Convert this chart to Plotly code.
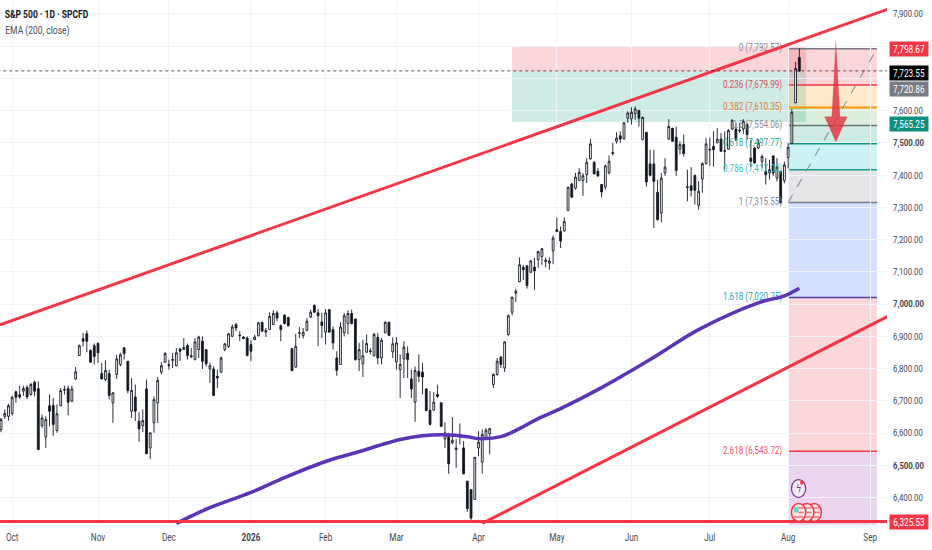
import plotly.graph_objects as go

# daily candles
opens = [6611,6652,6652,6661,6728,6719,6730,6742,6720,6758,
    6738,6623,6588,6685,6686,6608,6685,6733,6738,6699,
    6768,6841,6893,6908,6857,6871,6878,6785,6766,6785,
    6694,6782,6813,6865,6823,6668,6712,6637,6623,6737,
    6554,6632,6694,6789,6820,6812,6826,6809,6861,6859,
    6872,6836,6828,6859,6885,6859,6799,6799,6776,6789,
    6859,6869,6900,6937,6904,6898,6895,6875,6890,6902,
    6944,6913,6921,6937,6973,6933,6966,6959,6862,6805,
    6910,6903,6919,6960,6996,6973,6945,6913,6983,6921,
    6833,6813,6911,6940,6971,6954,6828,6815,6851,6853,
    6840,6897,6833,6911,6944,6852,6821,6797,6830,6847,
    6768,6696,6792,6789,6737,6671,6671,6720,6694,6582,
    6593,6570,6549,6596,6554,6451,6425,6394,6554,6510,
    6582,6598,6751,6782,6836,6802,6906,6975,7034,7070,
    7114,7119,7099,7115,7138,7148,7132,7127,7165,7231,
    7225,7227,7291,7373,7360,7384,7384,7402,7451,7440,
    7412,7371,7363,7407,7467,7505,7522,7513,7577,7575,
    7591,7601,7510,7533,7435,7435,7347,7283,7407,7512,
    7546,7518,7481,7495,7362,7367,7399,7307,7388,7436,
    7478,7489,7500,7512,7474,7481,7543,7543,7537,7543,
    7557,7453,7484,7484,7443,7412,7407,7460,7391,7412,
    7383,7455,7499,7625,7765]
highs = [6647,6673,6691,6716,6732,6747,6747,6748,6756,6763,
    6761,6658,6652,6720,6709,6689,6740,6747,6747,6747,
    6805,6875,6911,6918,6859,6878,6882,6818,6826,6797,
    6727,6843,6849,6867,6823,6771,6751,6665,6673,6766,
    6601,6714,6774,6820,6851,6828,6849,6864,6864,6895,
    6878,6864,6895,6902,6900,6859,6818,6807,6797,6838,
    6880,6911,6937,6942,6916,6900,6900,6890,6905,6945,
    6944,6926,6975,6981,6980,6937,6968,6959,6864,6908,
    6929,6926,6957,6983,6999,6985,6973,6985,6985,6931,
    6854,6944,6973,6981,6983,6954,6880,6890,6906,6864,
    6911,6911,6895,6947,6944,6897,6898,6844,6885,6869,
    6797,6807,6844,6818,6740,6730,6727,6750,6696,6634,
    6601,6650,6582,6630,6575,6451,6425,6525,6606,6611,
    6616,6616,6785,6833,6838,6885,6968,7024,7048,7145,
    7122,7119,7137,7143,7165,7174,7145,7145,7213,7269,
    7241,7269,7365,7376,7407,7422,7407,7453,7513,7443,
    7422,7373,7433,7461,7500,7533,7536,7565,7598,7611,
    7613,7601,7582,7533,7479,7479,7386,7407,7453,7574,
    7546,7551,7505,7526,7417,7425,7402,7381,7440,7515,
    7517,7536,7546,7531,7536,7543,7574,7562,7562,7574,
    7562,7510,7487,7512,7464,7453,7448,7460,7453,7412,
    7442,7499,7605,7752,7792.57]
lows = [6603,6644,6639,6654,6694,6706,6716,6706,6716,6714,
    6549,6616,6554,6621,6592,6601,6683,6720,6655,6696,
    6766,6840,6869,6851,6818,6813,6818,6766,6761,6704,
    6632,6768,6807,6828,6723,6647,6637,6573,6603,6536,
    6520,6601,6632,6782,6818,6797,6802,6807,6823,6859,
    6828,6833,6826,6833,6799,6807,6756,6716,6740,6787,
    6854,6864,6898,6916,6885,6892,6838,6823,6888,6900,
    6916,6898,6919,6937,6947,6885,6937,6931,6792,6802,
    6895,6893,6916,6957,6973,6869,6895,6875,6913,6859,
    6778,6813,6900,6906,6937,6825,6792,6774,6849,6844,
    6838,6813,6813,6911,6902,6833,6797,6709,6771,6771,
    6709,6635,6758,6720,6668,6624,6670,6709,6619,6554,
    6474,6565,6492,6565,6472,6356,6322,6394,6528,6474,
    6580,6534,6740,6778,6802,6790,6902,6965,7006,7068,
    7075,7048,7096,7044,7112,7122,7114,7107,7124,7225,
    7174,7225,7288,7329,7355,7381,7336,7376,7448,7402,
    7394,7331,7355,7402,7461,7498,7500,7510,7562,7557,
    7572,7551,7510,7365,7396,7236,7260,7254,7398,7510,
    7505,7398,7464,7458,7319,7334,7309,7293,7345,7433,
    7429,7427,7500,7474,7417,7479,7541,7505,7531,7528,
    7510,7425,7436,7481,7422,7371,7386,7398,7381,7312,
    7375,7421,7497,7623,7720]
closes = [6642,6661,6685,6711,6711,6712,6738,6712,6751,6730,
    6549,6647,6642,6668,6627,6660,6732,6735,6696,6737,
    6790,6871,6885,6885,6820,6838,6849,6768,6794,6717,
    6725,6830,6843,6847,6732,6732,6668,6613,6639,6536,
    6601,6704,6763,6809,6847,6810,6828,6849,6854,6866,
    6841,6840,6883,6898,6823,6815,6809,6717,6771,6833,
    6877,6908,6929,6926,6903,6893,6841,6854,6898,6942,
    6916,6918,6962,6971,6957,6921,6940,6933,6794,6869,
    6911,6913,6947,6975,6975,6964,6934,6973,6913,6880,
    6795,6929,6964,6971,6940,6828,6859,6840,6878,6855,
    6906,6833,6888,6944,6903,6877,6880,6813,6867,6828,
    6737,6794,6776,6774,6670,6627,6696,6714,6621,6601,
    6505,6578,6554,6590,6474,6366,6337,6525,6572,6596,
    6609,6614,6782,6823,6813,6883,6964,7021,7040,7122,
    7107,7058,7134,7103,7163,7172,7136,7134,7205,7225,
    7196,7256,7362,7332,7394,7409,7398,7440,7497,7404,
    7398,7348,7429,7443,7470,7515,7512,7562,7593,7595,
    7605,7577,7579,7379,7400,7381,7262,7391,7425,7551,
    7505,7415,7495,7467,7364,7353,7353,7350,7436,7497,
    7480,7479,7512,7474,7476,7539,7570,7510,7539,7567,
    7526,7443,7438,7500,7458,7402,7417,7407,7425,7314,
    7432,7486,7595,7731,7723.55]
bar_x = list(range(len(closes)))

# EMA 200 sampled along the curve
ema_x = [47,56,67,76,87,95,107,113,119,125,128,134,139,144,150,161,174,187,203,210,214]
ema_y = [6320,6369,6416,6462,6512,6539,6580,6592,6595,6589,6583,6589,6614,6645,6676,6741,6828,6921,7004,7026,7049.62]

month_pos = [3,26,45,67,87,106,128,149,169,190,211,233]
month_txt = ["Oct","Nov","Dec","<b>2026</b>","Feb","Mar","Apr","May","Jun","Jul","Aug","Sep"]
price_ticks = [6400,6500,6600,6700,6800,6900,7000,7100,7200,7300,7400,7500,7600,7700,7800,7900]
hidden_ticks = [7700, 7800]  # sit behind the price tags in the reference

# fib tool
fib_levels = ["0","0.236","0.382","0.5","0.618","0.786","1","1.618","2.618"]
fib_prices = [7792.57,7679.99,7610.35,7554.06,7497.77,7417.0,7315.55,7020.75,6543.72]
fib_text = ["7,792.57","7,679.99","7,610.35","7,554.06","7,497.77","7,417.00","7,315.55","7,020.75","6,543.72"]
fib_line = ["#787b86","#f23645","#ff9800","#66786f","#089981","#1a9c90","#787b86","#4a3fa0","#f23645"]
fib_label = ["#8a8d96","#d9505e","#e07a30","#8a8d96","#22ab94","#2fc4c4","#8a8d96","#2aa5c0","#f0505e"]
fib_fill = ["rgba(242,54,69,.2)","rgba(255,152,0,.2)","rgba(76,175,80,.2)","rgba(8,153,129,.2)",
            "rgba(0,188,212,.2)","rgba(120,123,134,.2)","rgba(41,98,255,.2)","rgba(242,54,69,.2)","rgba(156,39,176,.2)"]
fib_bottom = 6066
fib_x0, fib_x1 = 211, 234.8

stop_price, entry_price, target_price = 7798.67, 7720.86, 7565.25
pos_x0, pos_x1 = 137, 215.8
last_price = 7723.55
low_line = 6325.53

upper_x, upper_y = [-0.27, 238], [6936, 7916]
lower_x, lower_y = [129, 238], [6320, 6964]

arrow_x = [223.8,224.9,226.8,223.8,220.8,222.7,223.8]
arrow_y = [7813,7581,7581,7503,7581,7581,7813]

flag_x = [218, 216, 213.8]
flag_y = 6354
event_x, event_y = 213.8, 6428

# price tags: text, background, text colour, centre pixel
tag_text = ["7,798.67","7,723.55","7,720.86","7,565.25","6,325.53"]
tag_bg = ["#f23645","#000000","#787b86","#0f8f80","#f23645"]
tag_px = [49,73,88.5,123.5,522]

FONT = "Roboto"
H, PLOT_H = 550, 525
fig = go.Figure()

# labels first so the candles sit on top of them
fig.add_trace(go.Scatter(
    x=[209.4]*len(fib_prices), y=fib_prices, mode="text",
    text=[a + " (" + b + ")" for a, b in zip(fib_levels, fib_text)],
    textposition="middle left",
    textfont=dict(family=FONT, size=11, color=fib_label),
    hoverinfo="skip", showlegend=False))

fig.add_trace(go.Candlestick(
    x=bar_x, open=opens, high=highs, low=lows, close=closes,
    increasing=dict(line=dict(color="#131722", width=0.9), fillcolor="#ffffff"),
    decreasing=dict(line=dict(color="#131722", width=0.9), fillcolor="#131722"),
    whiskerwidth=0, showlegend=False))

fig.add_trace(go.Scatter(x=ema_x, y=ema_y, mode="lines",
    line=dict(color="#5b35b5", width=3.5, shape="spline"), showlegend=False))

fig.add_trace(go.Scatter(x=upper_x, y=upper_y, mode="lines",
    line=dict(color="#f23645", width=3), showlegend=False))
fig.add_trace(go.Scatter(x=lower_x, y=lower_y, mode="lines",
    line=dict(color="#f23645", width=3), showlegend=False))
fig.add_trace(go.Scatter(x=[-1, 238], y=[low_line, low_line], mode="lines",
    line=dict(color="#f23645", width=3), showlegend=False))

fig.add_trace(go.Scatter(x=[fib_x0, fib_x1], y=[fib_prices[6], fib_prices[0]], mode="lines",
    line=dict(color="#787b86", width=1, dash="dash"), showlegend=False))

fig.add_trace(go.Scatter(x=arrow_x, y=arrow_y, mode="lines", fill="toself",
    fillcolor="rgba(225,45,60,.8)", line=dict(color="rgba(225,45,60,.4)", width=0.5),
    showlegend=False))

# long/short box and fib zones
fig.add_shape(type="rect", x0=pos_x0, x1=pos_x1, y0=entry_price, y1=stop_price,
    fillcolor="rgba(242,54,69,.2)", line_width=0, layer="below")
fig.add_shape(type="rect", x0=pos_x0, x1=pos_x1, y0=target_price, y1=entry_price,
    fillcolor="rgba(8,153,129,.2)", line_width=0, layer="below")

bottoms = fib_prices[1:] + [fib_bottom]
for i in range(len(fib_prices)):
    fig.add_shape(type="rect", x0=fib_x0, x1=fib_x1, y0=bottoms[i], y1=fib_prices[i],
        fillcolor=fib_fill[i], line_width=0, layer="below")
    fig.add_shape(type="line", x0=fib_x0, x1=fib_x1, y0=fib_prices[i], y1=fib_prices[i],
        line=dict(color=fib_line[i], width=2 if i == 2 else 1.5), layer="below")

fig.add_shape(type="line", x0=-1, x1=238, y0=last_price, y1=last_price,
    line=dict(color="#131722", width=1, dash="dot"), opacity=0.7)

# event icons at the bottom of the last bars
fig.add_shape(type="circle", x0=event_x-1.9, x1=event_x+1.9, y0=event_y-28, y1=event_y+28,
    fillcolor="#f3ecf7", line=dict(color="#7b2d9b", width=1.2))
fig.add_shape(type="circle", x0=event_x+0.4, x1=event_x+1.4, y0=event_y+12, y1=event_y+26,
    fillcolor="#f23645", line_width=0)
fig.add_annotation(x=event_x, y=event_y, text="ϟ", showarrow=False,
    font=dict(family="DejaVu Sans", size=11, color="#7b2d9b"))
for fx in flag_x:
    fig.add_shape(type="circle", x0=fx-1.9, x1=fx+1.9, y0=flag_y-28, y1=flag_y+28,
        fillcolor="#fbe3e5", line=dict(color="#f23645", width=1.5))
    fig.add_shape(type="rect", x0=fx-1.3, x1=fx, y0=flag_y, y1=flag_y+17,
        fillcolor="#6fd0c8", line_width=0)
    for k in [-14, 0, 14]:
        fig.add_shape(type="line", x0=fx-1.3 if k < 0 else fx, x1=fx+1.3, y0=flag_y+k, y1=flag_y+k,
            line=dict(color="#f4707c", width=1.5))

for t, bg, py in zip(tag_text, tag_bg, tag_px):
    fig.add_annotation(xref="paper", yref="paper", x=(908.5/887), y=1-py/PLOT_H,
        xanchor="center", yanchor="middle",
        text=t, showarrow=False, bgcolor=bg, width=38, height=14, borderpad=0,
        font=dict(family=FONT, size=10, color="#ffffff"))

# text gets squeezed around its middle below, so these are centred
fig.add_annotation(xref="paper", yref="paper", x=46/887, y=1-14/PLOT_H,
    xanchor="center", yanchor="middle",
    text="<b>S&P 500 · 1D · SPCFD</b>", showarrow=False,
    font=dict(family=FONT, size=11.5, color="#131722"))
fig.add_annotation(xref="paper", yref="paper", x=37.5/887, y=1-30/PLOT_H,
    xanchor="center", yanchor="middle",
    text="EMA (200, close)", showarrow=False,
    font=dict(family=FONT, size=11.5, color="#4a4e59"))

price_txt = []
for p in price_ticks:
    if p in hidden_ticks:
        price_txt.append("")
    elif p % 500 == 0 and p != 7900:
        price_txt.append("<b>" + format(p, ",.2f") + "</b>")
    else:
        price_txt.append(format(p, ",.2f"))

fig.update_layout(
    width=932, height=H,
    margin=dict(l=0, r=45, t=0, b=H-PLOT_H),
    paper_bgcolor="#ffffff", plot_bgcolor="#ffffff",
    showlegend=False,
    xaxis=dict(range=[-0.27, 237.5], rangeslider=dict(visible=False), automargin=False,
        tickmode="array", tickvals=month_pos, ticktext=month_txt,
        showgrid=True, gridcolor="#f0f3fa", zeroline=False, ticks="", ticklabelstandoff=4,
        tickfont=dict(family=FONT, size=11, color="#434651")),
    yaxis=dict(range=[6315, 7943.4], side="right", automargin=False,
        tickmode="array", tickvals=price_ticks, ticktext=price_txt,
        showgrid=True, gridcolor="#f0f3fa", zeroline=False, ticks="", ticklabelstandoff=5,
        tickfont=dict(family=FONT, size=9.5, color="#434651")))

# the reference text is squeezed sideways, no narrow font here so squeeze it the same way
squeeze = """
document.body.style.margin='0';
document.querySelectorAll('svg text').forEach(function(t){
  var w = t.getComputedTextLength();
  var k = /^[0-9],[0-9]{3}[.][0-9]{2}$/.test(t.textContent) ? 0.82 : 0.74;
  if (w > 0) { t.setAttribute('textLength', w*k); t.setAttribute('lengthAdjust','spacingAndGlyphs'); }
});
"""
fig.write_html("out.html", post_script=squeeze, config={"displayModeBar": False})
